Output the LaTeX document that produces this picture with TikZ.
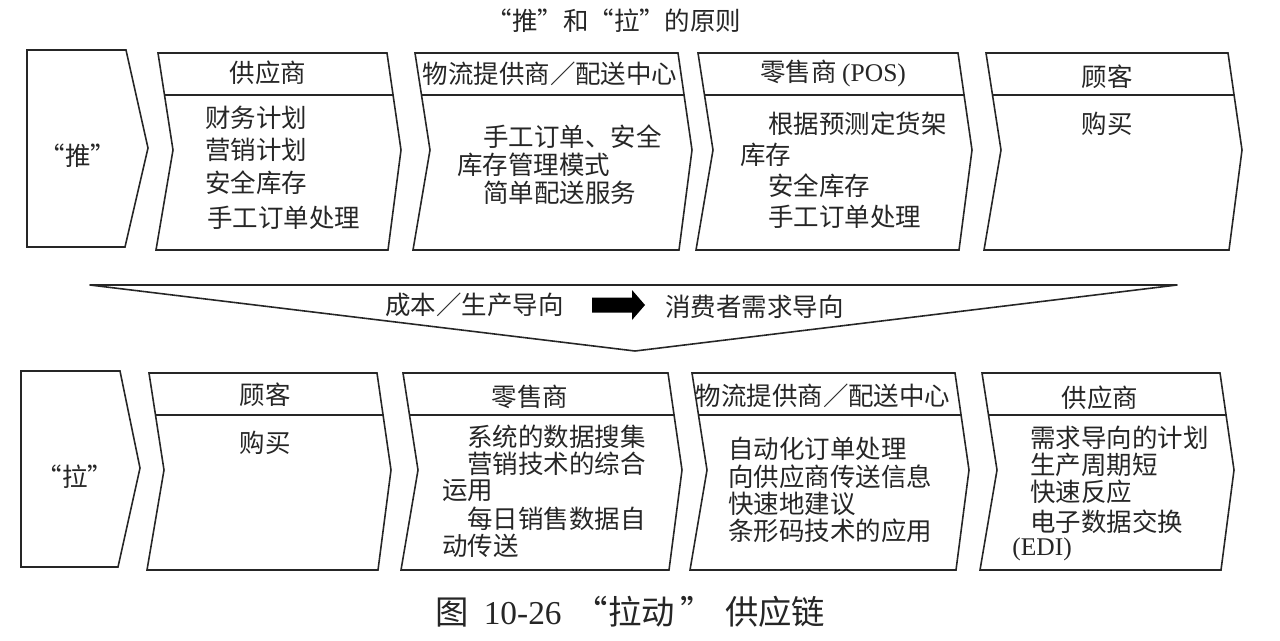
\documentclass[tikz,border=0pt]{standalone}
\usepackage{fontspec}
\setmainfont{Liberation Serif}
\newfontfamily\cjk{Noto Sans CJK SC}
\newcommand\chevshape[6]{% a b yt ym yb yh
  \draw[shapeline] (#1,#3) -- (#2,#3) -- ({#2+14},#4) -- ({#2+1},#5) -- ({#1-2},#5) -- ({#1+15},#4) -- cycle;
  \draw[shapeline] ({#1+15*(#6-#3)/(#4-#3)},#6) -- ({#2+14*(#6-#3)/(#4-#3)},#6);
}
\begin{document}
\begin{tikzpicture}[x=0.02cm,y=-0.02cm,
  shapeline/.style={draw=black!85,line width=0.9pt,line join=miter},
  txt/.style={inner sep=0pt,font=\fontsize{14.5}{17}\cjk,text=black!85},
  lt/.style={txt,anchor=west},
  ct/.style={txt,anchor=center}]
\fill[white] (0,0) rectangle (1280,640);
\useasboundingbox (0,0) rectangle (1280,640);

% title
\node[ct] (title) at (614,21) {“推”和“拉”的原则};

% top row
\draw[shapeline] (27,50) -- (126,50) -- (148,148) -- (125,247) -- (27,247) -- cycle;
\chevshape{158}{387}{53}{150}{250}{95}
\chevshape{415}{678}{53}{150}{250}{95}
\chevshape{698}{958}{53}{150}{250}{95}
\chevshape{986}{1228}{53}{150}{250}{95}

\node[ct] (push) at (78,156) {“推”};

\node[ct] (s1h) at (268,73) {供应商};
\node[lt] (s1a) at (205,118) {财务计划};
\node[lt] (s1b) at (205,150) {营销计划};
\node[lt] (s1c) at (205,183) {安全库存};
\node[lt] (s1d) at (207,218) {手工订单处理};

\node[ct] (l1h) at (550,74) {物流提供商／配送中心};
\node[lt] (l1a) at (483,137) {手工订单、安全};
\node[lt] (l1b) at (457,165) {库存管理模式};
\node[lt] (l1c) at (483,193) {简单配送服务};

\node[ct] (r1h) at (833,73) {零售商 {\rmfamily (POS)}};
\node[lt] (r1a) at (768,124) {根据预测定货架};
\node[lt] (r1b) at (740,155) {库存};
\node[lt] (r1c) at (768,186) {安全库存};
\node[lt] (r1d) at (768,217) {手工订单处理};

\node[ct] (c1h) at (1107,77) {顾客};
\node[ct] (c1a) at (1107,124) {购买};

% banner
\draw[shapeline,line join=round] (90,285) -- (1177,285) -- (635,351) -- cycle;
\node[lt] (cost) at (385,305) {成本／生产导向};
\fill[black] (592,297.5) -- (632,297.5) -- (632,290) -- (645,305) -- (632,320) -- (632,312.5) -- (592,312.5) -- cycle;
\node[lt] (cons) at (665,307) {消费者需求导向};

% bottom row
\draw[shapeline] (21,371) -- (120,371) -- (140,468) -- (118,567) -- (21,567) -- cycle;
\chevshape{149}{377}{373}{470}{570}{415}
\chevshape{403}{668}{373}{470}{570}{415}
\chevshape{692}{955}{373}{470}{570}{415}
\chevshape{982}{1220}{373}{470}{570}{415}

\node[ct] (pull) at (75,477) {“拉”};

\node[ct] (c2h) at (265,395) {顾客};
\node[ct] (c2a) at (265,443) {购买};

\node[ct] (r2h) at (530,397) {零售商};
\node[lt] (r2a) at (467,437) {系统的数据搜集};
\node[lt] (r2b) at (467,464) {营销技术的综合};
\node[lt] (r2c) at (442,491) {运用};
\node[lt] (r2d) at (467,519) {每日销售数据自};
\node[lt] (r2e) at (442,546) {动传送};

\node[ct] (l2h) at (823,396) {物流提供商／配送中心};
\node[lt] (l2a) at (728,449) {自动化订单处理};
\node[lt] (l2b) at (728,477) {向供应商传送信息};
\node[lt] (l2c) at (728,504) {快速地建议};
\node[lt] (l2d) at (728,531) {条形码技术的应用};

\node[ct] (s2h) at (1100,398) {供应商};
\node[lt] (s2a) at (1030,438) {需求导向的计划};
\node[lt] (s2b) at (1030,465) {生产周期短};
\node[lt] (s2c) at (1030,492) {快速反应};
\node[lt] (s2d) at (1030,522) {电子数据交换};
\node[lt] (s2e) at (1012,549) {\rmfamily (EDI)};

% caption
\node[txt,anchor=west,font=\fontsize{19}{22}\cjk] (cap) at (435,612) {图\hspace{0.45em}{\rmfamily 10-26}\hspace{0.4em}“拉动\hspace{0.15em}”\hspace{0.35em}供应链};
\end{tikzpicture}
\end{document}
